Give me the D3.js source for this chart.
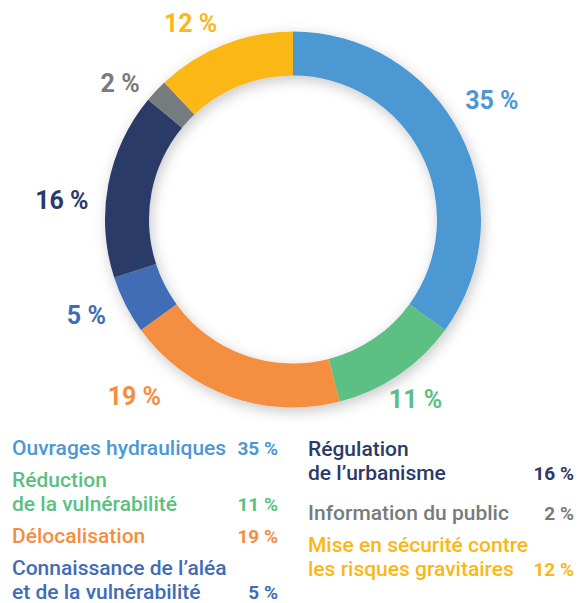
<!DOCTYPE html>
<html lang="fr">
<head>
<meta charset="utf-8">
<title>Répartition</title>
<script src="https://cdn.jsdelivr.net/npm/d3@7"></script>
<style>
  body { margin: 0; background: #fff; }
  svg { display: block; font-family: Roboto, "Noto Sans", sans-serif; }
</style>
</head>
<body>
<div id="chart"></div>
<script>
// data, clockwise from 12 o'clock
var categories = ["Ouvrages hydrauliques", "Réduction de la vulnérabilité", "Délocalisation",
                  "Connaissance de l’aléa et de la vulnérabilité", "Régulation de l’urbanisme",
                  "Information du public", "Mise en sécurité contre les risques gravitaires"];
var values = [35, 11, 19, 5, 16, 2, 12];
var colors = ["#4b98d3", "#5bbf83", "#f48e3f", "#3f6db5", "#2b3a67", "#767b7d", "#fbb718"];
var legendLines = [
  ["Ouvrages hydrauliques"],
  ["Réduction", "de la vulnérabilité"],
  ["Délocalisation"],
  ["Connaissance de l’aléa", "et de la vulnérabilité"],
  ["Régulation", "de l’urbanisme"],
  ["Information du public"],
  ["Mise en sécurité contre", "les risques gravitaires"]
];

var width = 586, height = 603;
var cx = 293, cy = 219.5, rOuter = 188, rInner = 144;

// hand nudges so labels sit like the original (degrees, radius)
var labelNudge = [[-4, 232], [0, 218], [22, 238], [2, 228], [-6, 232], [-5, 220], [-6, 221]];

// legend layout: column x, right edge, first baseline
var legendPos = [
  [12, 278, 455], [12, 278, 487], [12, 278, 543], [12, 278, 575],
  [308, 574, 456], [308, 574, 520], [308, 574, 552]
];

var svg = d3.select("#chart").append("svg")
  .attr("width", width)
  .attr("height", height);

var defs = svg.append("defs");
var f = defs.append("filter").attr("id", "shadow")
  .attr("x", "-20%").attr("y", "-20%").attr("width", "140%").attr("height", "140%");
f.append("feDropShadow")
  .attr("dx", 2).attr("dy", 4)
  .attr("stdDeviation", 7)
  .attr("flood-color", "#000")
  .attr("flood-opacity", 0.22);

var pie = d3.pie().sort(null).value(function(d) { return d; });
var arcs = pie(values);
var arc = d3.arc().innerRadius(rInner).outerRadius(rOuter);

var g = svg.append("g").attr("transform", "translate(" + cx + "," + cy + ")");

var ring = g.append("g").attr("filter", "url(#shadow)");
ring.selectAll("path")
  .data(arcs)
  .enter().append("path")
  .attr("d", arc)
  .attr("fill", function(d, i) { return colors[i]; });

// percent labels round the ring
g.selectAll("text.pct")
  .data(arcs)
  .enter().append("text")
  .attr("class", "pct")
  .attr("x", function(d, i) {
    var a = (d.startAngle + d.endAngle) / 2 + labelNudge[i][0] * Math.PI / 180;
    return Math.sin(a) * labelNudge[i][1];
  })
  .attr("y", function(d, i) {
    var a = (d.startAngle + d.endAngle) / 2 + labelNudge[i][0] * Math.PI / 180;
    return -Math.cos(a) * labelNudge[i][1];
  })
  .attr("text-anchor", "middle")
  .attr("dominant-baseline", "central")
  .attr("font-size", 25)
  .attr("font-weight", 700)
  .attr("fill", function(d, i) { return colors[i]; })
  .text(function(d) { return d.data + " %"; });

// legend
var lineH = 24;
var leg = svg.append("g");
legendLines.forEach(function(lines, i) {
  var p = legendPos[i];
  lines.forEach(function(t, j) {
    leg.append("text")
      .attr("x", p[0])
      .attr("y", p[2] + j * lineH)
      .attr("font-size", 21)
      .attr("font-weight", 500)
      .attr("fill", colors[i])
      .text(t);
  });
  leg.append("text")
    .attr("x", p[1])
    .attr("y", p[2] + (lines.length - 1) * lineH)
    .attr("text-anchor", "end")
    .attr("font-size", 19)
    .attr("font-weight", 700)
    .attr("fill", colors[i])
    .text(values[i] + " %");
});
</script>
</body>
</html>
